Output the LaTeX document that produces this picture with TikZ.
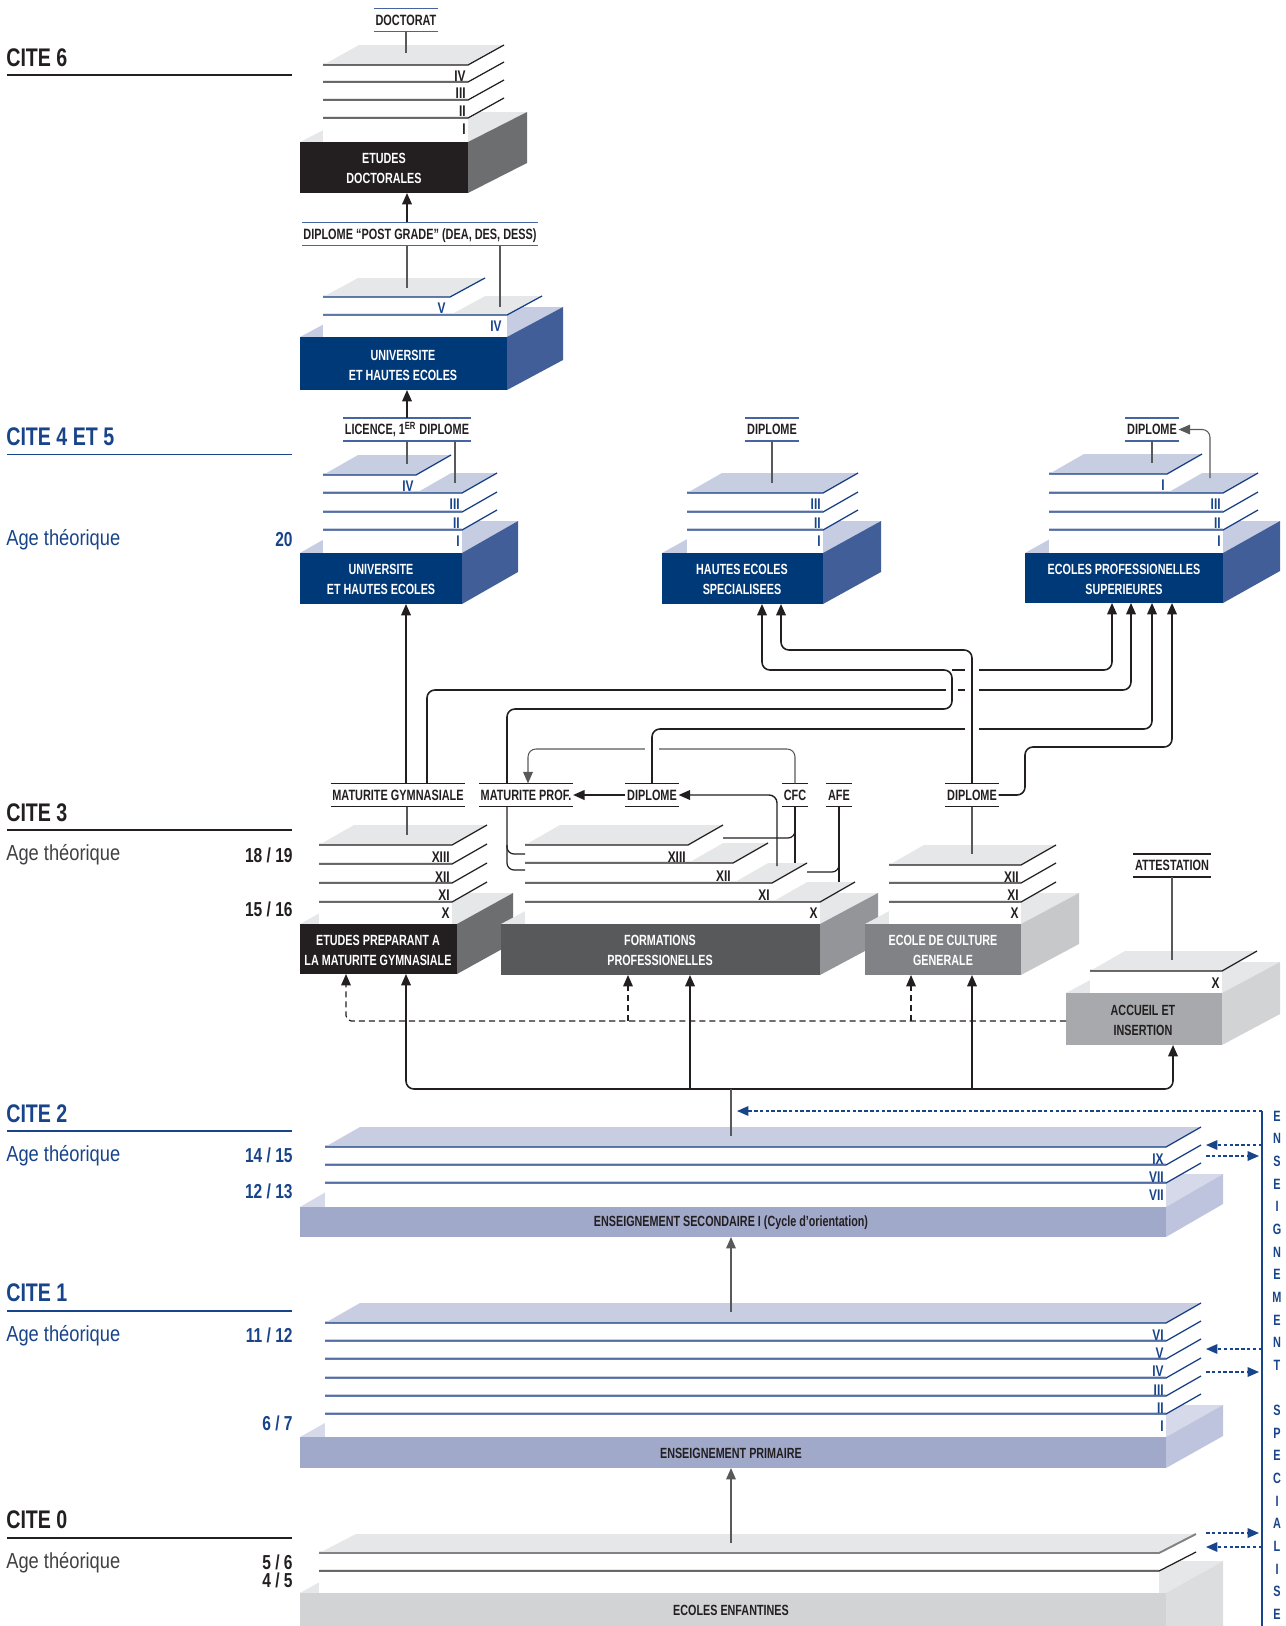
\documentclass[tikz,border=0pt]{standalone}
\usepackage{fontspec}
\setmainfont{Liberation Sans}
\newfontfamily\cnd{Liberation Sans}[FakeStretch=0.73]
\newfontfamily\hdf{Liberation Sans}[FakeStretch=0.77]
\newfontfamily\ltf{Liberation Sans}[FakeStretch=0.84]
\usetikzlibrary{arrows.meta}
\definecolor{ink}{RGB}{35,31,32}
\definecolor{cblue}{RGB}{24,68,138}
\definecolor{lblue}{RGB}{70,100,160}
\definecolor{bfront}{RGB}{0,57,120}
\definecolor{bside}{RGB}{66,94,152}
\definecolor{btop}{RGB}{198,204,226}
\definecolor{bsheet}{RGB}{200,206,226}
\definecolor{bline}{RGB}{20,60,130}
\definecolor{g1}{RGB}{230,231,232}
\definecolor{gside}{RGB}{109,110,112}
\definecolor{fpfront}{RGB}{88,89,91}
\definecolor{fpside}{RGB}{147,149,152}
\definecolor{ecgfront}{RGB}{128,130,133}
\definecolor{ecgside}{RGB}{199,200,202}
\definecolor{aifront}{RGB}{167,169,172}
\definecolor{aiside}{RGB}{209,211,212}
\definecolor{pfront}{RGB}{161,169,203}
\definecolor{pside}{RGB}{190,196,222}
\definecolor{ptop}{RGB}{213,217,233}
\definecolor{psheet}{RGB}{200,205,225}
\definecolor{eefront}{RGB}{209,211,212}
\definecolor{eeside}{RGB}{220,221,223}
\definecolor{lgray}{RGB}{88,89,91}
\definecolor{agegray}{RGB}{65,64,66}

% block: x1,y1,x2,y2,dx,dy,front,side,top
\newcommand\blk[9]{%
  \fill[#9] (#1,#2) -- (#3,#2) -- ({#3+#5},{#2+#6}) -- ({#1+#5},{#2+#6}) -- cycle;
  \fill[#8] (#3,#2) -- ({#3+#5},{#2+#6}) -- ({#3+#5},{#4+#6}) -- (#3,#4) -- cycle;
  \fill[#7] (#1,#2) rectangle (#3,#4);}
% sheet fill: x1,x2,y,ybase,yside,dx,dy,topcol
\newcommand\shf[8]{%
  \fill[white] (#1,#3) rectangle (#2,#4);
  \fill[white] (#2,#3) -- ({#2+#6},{#3+#7}) -- ({#2+#6},{#5+#7}) -- (#2,#5) -- cycle;
  \fill[#8] (#1,#3) -- (#2,#3) -- ({#2+#6},{#3+#7}) -- ({#1+#6},{#3+#7}) -- cycle;}
% sheet line: x1,x2,y,dx,dy,bandcol,linecol
\newcommand\shl[7]{%
  \fill[#6] (#1,{#3-2.5}) rectangle (#2,#3);
  \draw[#7,line width=0.7pt] (#1,#3) -- (#2,#3) -- ({#2+#4},{#3+#5});}
% roman numeral: name,xright,ytop,text,colour
\newcommand\rn[5]{\node[numf,#5,anchor=north east] (#1) at (#2,#3) {#4};}
% label with rules: name,pos,text,rulecolour
\newcommand\lab[4]{\node[lbl] (#1) at (#2) {#3};
  \draw[#4,line width=0.7pt] (#1.north west) -- (#1.north east) (#1.south west) -- (#1.south east);}

\tikzset{
 conn/.style={line width=0.9pt, ink, rounded corners=4.5pt},
 arr/.style={conn, -{Triangle[length=6.5pt,width=5.5pt]}},
 thinc/.style={line width=0.7pt, ink, rounded corners=4pt},
 thinl/.style={line width=0.6pt, lgray},
 garr/.style={line width=0.6pt, lgray, rounded corners=4.5pt, -{Triangle[length=6.5pt,width=5.5pt]}},
 dconn/.style={line width=0.7pt, ink, rounded corners=3pt, dash pattern=on 3.5pt off 2.2pt},
 darr/.style={dconn, -{Triangle[length=6.5pt,width=5.5pt]}},
 bdarr/.style={line width=0.7pt, cblue, dash pattern=on 2pt off 1.3pt, -{Triangle[length=6.5pt,width=5.5pt]}},
 lbl/.style={font=\cnd\bfseries\fontsize{8.5}{9}\selectfont, ink, inner xsep=0.8pt, inner ysep=0pt, minimum height=12.8pt, text height=6.1pt, text depth=0pt},
 btxt/.style={font=\cnd\bfseries\fontsize{8.4}{11.3}\selectfont, align=center, inner sep=0pt},
 numf/.style={font=\hdf\bfseries\fontsize{8.8}{9}\selectfont, inner sep=0pt},
 hd/.style={font=\hdf\bfseries\fontsize{14.5}{15}\selectfont, inner sep=0pt, anchor=base west},
 age/.style={font=\ltf\fontsize{12.4}{13}\selectfont, inner sep=0pt, anchor=base west},
 agen/.style={font=\hdf\bfseries\fontsize{11.5}{12}\selectfont, inner sep=0pt, anchor=base east},
 vlet/.style={font=\cnd\bfseries\fontsize{8.5}{9}\selectfont, cblue, inner sep=0pt},
}

\begin{document}
\begin{tikzpicture}[x=0.02cm,y=-0.02cm]
\useasboundingbox (0,0) rectangle (1285,1626);
\clip (0,0) rectangle (1285,1626);

% ---------------- left column
\node[hd,ink] (c6) at (6,66) {CITE 6};
\draw[ink,line width=0.9pt] (7,75) -- (292,75);
\node[hd,cblue] (c45) at (6,445) {CITE 4 ET 5};
\draw[cblue,line width=0.9pt] (7,454.5) -- (292,454.5);
\node[age,cblue] (a45) at (6,545) {Age théorique};
\node[agen,cblue] (n45) at (293,546) {20};
\node[hd,ink] (c3) at (6,821) {CITE 3};
\draw[ink,line width=0.9pt] (7,830) -- (292,830);
\node[age,agegray] (a3) at (6,860) {Age théorique};
\node[agen,ink] (n3a) at (293,862.5) {18 / 19};
\node[agen,ink] (n3b) at (293,916.5) {15 / 16};
\node[hd,cblue] (c2) at (6,1122) {CITE 2};
\draw[cblue,line width=0.9pt] (7,1131) -- (292,1131);
\node[age,cblue] (a2) at (6,1161) {Age théorique};
\node[agen,cblue] (n2a) at (293,1162.5) {14 / 15};
\node[agen,cblue] (n2b) at (293,1198.5) {12 / 13};
\node[hd,cblue] (c1) at (6,1301) {CITE 1};
\draw[cblue,line width=0.9pt] (7,1311) -- (292,1311);
\node[age,cblue] (a1) at (6,1341) {Age théorique};
\node[agen,cblue] (n1a) at (293,1342.5) {11 / 12};
\node[agen,cblue] (n1b) at (293,1430.5) {6 / 7};
\node[hd,ink] (c0) at (6,1528) {CITE 0};
\draw[ink,line width=0.9pt] (7,1538) -- (292,1538);
\node[age,agegray] (a0) at (6,1568) {Age théorique};
\node[agen,ink] (n0a) at (293,1569.5) {5 / 6};
\node[agen,ink] (n0b) at (293,1587.5) {4 / 5};

% ---------------- CITE 6 : etudes doctorales
\blk{300}{142}{468}{193}{59}{-30}{ink}{gside}{g1}
\shf{323}{468}{118}{142}{118}{36}{-20}{g1}
\shf{323}{468}{100}{118}{118}{36}{-20}{g1}
\shf{323}{468}{82}{100}{100}{36}{-20}{g1}
\shf{323}{468}{65}{82}{82}{36}{-20}{g1}
\shl{323}{468}{118}{36}{-20}{g1}{ink}
\shl{323}{468}{100}{36}{-20}{g1}{ink}
\shl{323}{468}{82}{36}{-20}{g1}{ink}
\shl{323}{468}{65}{36}{-20}{g1}{ink}
\rn{ed4}{466}{71}{IV}{ink}
\rn{ed3}{466}{88}{III}{ink}
\rn{ed2}{466}{106}{II}{ink}
\rn{ed1}{466}{124}{I}{ink}
\node[btxt,white] (edt) at (384,168) {ETUDES\\DOCTORALES};

% ---------------- CITE 6 : universite
\blk{300}{337}{507}{390}{56}{-30}{bfront}{bside}{btop}
\shf{323}{507}{315}{337}{315}{35}{-19}{g1}
\shf{323}{450}{297}{315}{315}{35}{-19}{g1}
\shl{323}{507}{315}{35}{-19}{g1}{bline}
\shl{323}{450}{297}{35}{-19}{g1}{bline}
\rn{u6v}{446}{303}{V}{cblue}
\rn{u6iv}{502}{321}{IV}{cblue}
\node[btxt,white] (u6t) at (403,365) {UNIVERSITE\\ET HAUTES ECOLES};

% ---------------- CITE 4/5 : universite
\blk{300}{553}{462}{604}{56}{-32}{bfront}{bside}{btop}
\shf{323}{462}{530}{553}{530}{35}{-20}{bsheet}
\shf{323}{462}{512}{530}{530}{35}{-20}{bsheet}
\shf{323}{462}{493}{512}{512}{35}{-20}{bsheet}
\shf{323}{416}{475}{493}{493}{35}{-20}{bsheet}
\shl{323}{462}{530}{35}{-20}{bsheet}{bline}
\shl{323}{462}{512}{35}{-20}{bsheet}{bline}
\shl{323}{462}{493}{35}{-20}{bsheet}{bline}
\shl{323}{416}{475}{35}{-20}{bsheet}{bline}
\rn{u4iv}{414}{481}{IV}{cblue}
\rn{u4iii}{460}{499}{III}{cblue}
\rn{u4ii}{460}{518}{II}{cblue}
\rn{u4i}{460}{536}{I}{cblue}
\node[btxt,white] (u4t) at (381,579) {UNIVERSITE\\ET HAUTES ECOLES};

% ---------------- CITE 4/5 : HES
\blk{662}{553}{823}{604}{58}{-32}{bfront}{bside}{btop}
\shf{687}{823}{530}{553}{530}{35}{-20}{bsheet}
\shf{687}{823}{512}{530}{530}{35}{-20}{bsheet}
\shf{687}{823}{493}{512}{512}{35}{-20}{bsheet}
\shl{687}{823}{530}{35}{-20}{bsheet}{bline}
\shl{687}{823}{512}{35}{-20}{bsheet}{bline}
\shl{687}{823}{493}{35}{-20}{bsheet}{bline}
\rn{hesiii}{821}{499}{III}{cblue}
\rn{hesii}{821}{518}{II}{cblue}
\rn{hesi}{821}{536}{I}{cblue}
\node[btxt,white] (hest) at (742,579) {HAUTES ECOLES\\SPECIALISEES};

% ---------------- CITE 4/5 : EPS
\blk{1025}{553}{1223}{603}{57}{-32}{bfront}{bside}{btop}
\shf{1049}{1223}{530}{553}{530}{35}{-20}{bsheet}
\shf{1049}{1223}{512}{530}{530}{35}{-20}{bsheet}
\shf{1049}{1223}{493}{512}{512}{35}{-20}{bsheet}
\shf{1049}{1167}{474}{493}{493}{35}{-20}{bsheet}
\shl{1049}{1223}{530}{35}{-20}{bsheet}{bline}
\shl{1049}{1223}{512}{35}{-20}{bsheet}{bline}
\shl{1049}{1223}{493}{35}{-20}{bsheet}{bline}
\shl{1049}{1167}{474}{35}{-20}{bsheet}{bline}
\rn{epsis}{1165}{480}{I}{cblue}
\rn{epsiii}{1221}{499}{III}{cblue}
\rn{epsii}{1221}{518}{II}{cblue}
\rn{epsi}{1221}{536}{I}{cblue}
\node[btxt,white] (epst) at (1124,579) {ECOLES PROFESSIONELLES\\SUPERIEURES};

% ---------------- CITE 3 blocks
\blk{300}{924}{457}{974}{56}{-31}{ink}{gside}{g1}
\shf{319}{452}{902}{924}{902}{35}{-20}{g1}
\shf{319}{452}{883}{902}{902}{35}{-20}{g1}
\shf{319}{452}{864}{883}{883}{35}{-20}{g1}
\shf{319}{452}{845}{864}{864}{35}{-20}{g1}
\shl{319}{452}{902}{35}{-20}{g1}{ink}
\shl{319}{452}{883}{35}{-20}{g1}{ink}
\shl{319}{452}{864}{35}{-20}{g1}{ink}
\shl{319}{452}{845}{35}{-20}{g1}{ink}
\rn{ep13}{450}{852}{XIII}{ink}
\rn{ep12}{450}{871}{XII}{ink}
\rn{ep11}{450}{889}{XI}{ink}
\rn{ep10}{450}{908}{X}{ink}
\node[btxt,white] (ept) at (378,950) {ETUDES PREPARANT A\\LA MATURITE GYMNASIALE};

\blk{501}{924}{820}{975}{58}{-31}{fpfront}{fpside}{g1}
\shf{525}{820}{902}{924}{902}{35}{-20}{g1}
\shf{525}{772}{883}{902}{902}{35}{-20}{g1}
\shf{525}{733}{863}{883}{883}{35}{-20}{g1}
\shf{525}{688}{845}{863}{863}{35}{-20}{g1}
\shl{525}{820}{902}{35}{-20}{g1}{ink}
\shl{525}{772}{883}{35}{-20}{g1}{ink}
\shl{525}{733}{863}{35}{-20}{g1}{ink}
\shl{525}{688}{845}{35}{-20}{g1}{ink}
\rn{fp13}{686}{852}{XIII}{ink}
\rn{fp12}{731}{870}{XII}{ink}
\rn{fp11}{770}{889}{XI}{ink}
\rn{fp10}{818}{908}{X}{ink}
\node[btxt,white] (fpt) at (660,950) {FORMATIONS\\PROFESSIONELLES};

\blk{865}{924}{1021}{975}{58}{-31}{ecgfront}{ecgside}{g1}
\shf{889}{1021}{902}{924}{902}{35}{-20}{g1}
\shf{889}{1021}{883}{902}{902}{35}{-20}{g1}
\shf{889}{1021}{865}{883}{883}{35}{-20}{g1}
\shl{889}{1021}{902}{35}{-20}{g1}{ink}
\shl{889}{1021}{883}{35}{-20}{g1}{ink}
\shl{889}{1021}{865}{35}{-20}{g1}{ink}
\rn{ecg12}{1019}{871}{XII}{ink}
\rn{ecg11}{1019}{889}{XI}{ink}
\rn{ecg10}{1019}{908}{X}{ink}
\node[btxt,white] (ecgt) at (943,950) {ECOLE DE CULTURE\\GENERALE};

\blk{1066}{993}{1222}{1045}{58}{-31}{aifront}{aiside}{g1}
\shf{1090}{1222}{971}{993}{971}{35}{-20}{g1}
\shl{1090}{1222}{971}{35}{-20}{g1}{ink}
\rn{ai10}{1220}{977}{X}{ink}
\node[btxt,ink] (ait) at (1143,1020) {ACCUEIL ET\\INSERTION};

% ---------------- CITE 2
\blk{300}{1207}{1166}{1237}{57}{-33}{pfront}{pside}{ptop}
\shf{325}{1166}{1183}{1207}{1183}{35}{-20}{psheet}
\shf{325}{1166}{1165}{1183}{1183}{35}{-20}{psheet}
\shf{325}{1166}{1147}{1165}{1165}{35}{-20}{psheet}
\shl{325}{1166}{1183}{35}{-20}{psheet}{bline}
\shl{325}{1166}{1165}{35}{-20}{psheet}{bline}
\shl{325}{1166}{1147}{35}{-20}{psheet}{bline}
\rn{s9}{1164}{1153}{IX}{cblue}
\rn{s8}{1164}{1171}{VII}{cblue}
\rn{s7}{1164}{1189}{VII}{cblue}
\node[btxt,ink] (s1txt) at (731,1223) {ENSEIGNEMENT SECONDAIRE I (Cycle d’orientation)};

% ---------------- CITE 1
\blk{300}{1437}{1166}{1468}{57}{-32}{pfront}{pside}{ptop}
\shf{325}{1166}{1414}{1437}{1414}{35}{-20}{psheet}
\shf{325}{1166}{1396}{1414}{1414}{35}{-20}{psheet}
\shf{325}{1166}{1378}{1396}{1396}{35}{-20}{psheet}
\shf{325}{1166}{1359}{1378}{1378}{35}{-20}{psheet}
\shf{325}{1166}{1341}{1359}{1359}{35}{-20}{psheet}
\shf{325}{1166}{1323}{1341}{1341}{35}{-20}{psheet}
\shl{325}{1166}{1414}{35}{-20}{psheet}{bline}
\shl{325}{1166}{1396}{35}{-20}{psheet}{bline}
\shl{325}{1166}{1378}{35}{-20}{psheet}{bline}
\shl{325}{1166}{1359}{35}{-20}{psheet}{bline}
\shl{325}{1166}{1341}{35}{-20}{psheet}{bline}
\shl{325}{1166}{1323}{35}{-20}{psheet}{bline}
\rn{p6}{1164}{1329}{VI}{cblue}
\rn{p5}{1164}{1347}{V}{cblue}
\rn{p4}{1164}{1365}{IV}{cblue}
\rn{p3}{1164}{1384}{III}{cblue}
\rn{p2}{1164}{1402}{II}{cblue}
\rn{p1}{1164}{1420}{I}{cblue}
\node[btxt,ink] (ptxt) at (731,1453) {ENSEIGNEMENT PRIMAIRE};

% ---------------- CITE 0
\blk{300}{1593}{1166}{1680}{57}{-32}{eefront}{eeside}{g1}
\shf{319}{1159}{1571}{1593}{1571}{37}{-19}{g1}
\shf{319}{1159}{1553}{1571}{1571}{37}{-19}{g1}
\shl{319}{1159}{1571}{37}{-19}{g1}{ink}
\fill[g1] (319,1550.5) rectangle (1159,1553);
\draw[ecgfront,line width=1.1pt] (319,1553) -- (1159,1553) -- (1196,1534);
\node[btxt,ink] (eetxt) at (731,1610) {ECOLES ENFANTINES};

% ---------------- labels
\lab{doc}{406,20}{DOCTORAT}{lblue}
\lab{pg}{420,234}{DIPLOME “POST GRADE” (DEA, DES, DESS)}{lblue}
\lab{lic}{407,429.5}{LICENCE, 1\textsuperscript{ER} DIPLOME}{lblue}
\lab{dhes}{772,429.5}{DIPLOME}{lblue}
\lab{deps}{1152,429.5}{DIPLOME}{lblue}
\lab{mg}{398,795}{MATURITE GYMNASIALE}{ink}
\lab{mp}{526,795}{MATURITE PROF.}{ink}
\lab{dipF}{652,795}{DIPLOME}{ink}
\lab{cfc}{795,795}{CFC}{ink}
\lab{afe}{839,795}{AFE}{ink}
\lab{dipE}{972,795}{DIPLOME}{ink}
\lab{att}{1172,865.5}{ATTESTATION}{ink}

% ---------------- coordinates
\coordinate (edB) at (407,193);
\coordinate (u6B) at (407,390);
\coordinate (u4B) at (406,604);
\coordinate (hesB1) at (762,604);
\coordinate (hesB2) at (781,604);
\coordinate (epsB1) at (1112,603);
\coordinate (epsB2) at (1131,603);
\coordinate (epsB3) at (1152,603);
\coordinate (epsB4) at (1172,603);
\coordinate (epB1) at (346,974);
\coordinate (epB2) at (406,974);
\coordinate (fpB1) at (628,975);
\coordinate (fpB2) at (690,975);
\coordinate (ecgB1) at (911,975);
\coordinate (ecgB2) at (972,975);
\coordinate (aiB) at (1173,1045);
\coordinate (aiW) at (1066,1021);
\coordinate (s1Top) at (731,1136);
\coordinate (s1Bot) at (731,1237);
\coordinate (pTop) at (731,1312);
\coordinate (pBot) at (731,1468);
\coordinate (eeTop) at (731,1543);
\coordinate (docS) at (406,53);
\coordinate (u6V) at (407,288);
\coordinate (u6IV) at (500,307);
\coordinate (u4IV) at (407,464);
\coordinate (u4III) at (455,483);
\coordinate (hesS) at (772,483);
\coordinate (epsS) at (1152,463);
\coordinate (epsI) at (1210,478);
\coordinate (mgS) at (407,835);
\coordinate (ecgS) at (972,854);
\coordinate (attS) at (1172,960);
\coordinate (fpXI) at (777,866);
\coordinate (cfcS) at (795,863);
\coordinate (afeS) at (839,882);
\coordinate (xA) at (507,0);
\coordinate (xC) at (427,0);
\coordinate (xE) at (528,0);
\coordinate (vTop) at (1262,1111);
\coordinate (secArr) at (737,1111);

% ---------------- thin lines from labels to sheets
\draw[thinl] (doc.south) -- (docS);
\draw[thinl] (pg.south -| u6V) -- (u6V);
\draw[thinl] (pg.south -| u6IV) -- (u6IV);
\draw[thinl] (lic.south -| u4IV) -- (u4IV);
\draw[thinl] (lic.south -| u4III) -- (u4III);
\draw[thinl] (dhes.south) -- (hesS);
\draw[thinl] (deps.south) -- (epsS);
\draw[thinl] (mg.south -| mgS) -- (mgS);
\draw[thinl] (dipE.south) -- (ecgS);
\draw[thinl] (att.south) -- (attS);

% ---------------- upper arrows
\draw[arr] (pg.north -| edB) -- (edB);
\draw[arr] (lic.north -| u6B) -- (u6B);
\draw[garr] (epsI) -- (epsI |- deps) -- (deps.east);

% ---------------- CITE 3 -> CITE 4/5 connectors
\draw[arr] (mg.north -| u4B) -- (u4B);
\draw[arr] (mp.north -| xA) -- (507,709) -- (952,709) -- (952,670) -- (762,670) -- (hesB1);
\draw[arr] (952,670) -- (1112,670) -- (epsB1);
\draw[arr] (mg.north -| xC) -- (427,690) -- (1131,690) -- (epsB2);
\draw[arr] (dipF.north) -- (652,729) -- (1152,729) -- (epsB3);
\draw[arr] (dipE.east) -- (1025,795) -- (1025,747) -- (1172,747) -- (epsB4);
\draw[garr] (cfc.north) -- (795,749) -- (528,749) -- (mp.north -| xE);
% crossing gaps
\draw[white,line width=7.5pt] (972,662) -- (972,738);
\draw[white,line width=7pt] (952,682) -- (952,698);
\draw[white,line width=8pt] (652,742) -- (652,756);
\draw[conn] (952,701) -- (952,679);
\draw[conn] (652,760) -- (652,738);
\draw[arr] (dipE.north) -- (972,650) -- (781,650) -- (hesB2);

% ---------------- CITE 3 internal lines
\draw[thinc] (mp.south -| xA) -- (507,870) -- (525,870);
\draw[thinc] (507,845) -- (507,854) -- (525,854);
\draw[arr,line width=0.8pt] (fpXI) -- (777,795) -- (dipF.east);
\draw[arr] (dipF.west) -- (mp.east);
\draw[thinc] (cfc.south) -- (cfcS);
\draw[thinc] (795,825) -- (795,838) -- (723,838);
\draw[thinc] (afe.south) -- (afeS);
\draw[thinc] (839,860) -- (839,872) -- (807,872);

% ---------------- CITE 2 -> CITE 3
\draw[conn,{Triangle[length=6.5pt,width=5.5pt]}-{Triangle[length=6.5pt,width=5.5pt]}] (epB2) -- (406,1089) -- (1173,1089) -- (aiB);
\draw[arr] (690,1089) -- (fpB2);
\draw[arr] (972,1089) -- (ecgB2);
\draw[thinl] (731,1089) -- (s1Top);
\draw[darr] (aiW) -- (346,1021) -- (epB1);
\draw[darr] (628,1021) -- (fpB1);
\draw[darr] (911,1021) -- (ecgB1);

% ---------------- lower arrows
\draw[garr] (pTop) -- (s1Bot);
\draw[garr] (eeTop) -- (pBot);

% ---------------- special education
\draw[cblue,line width=0.8pt] (vTop) -- (1262,1640);
\draw[bdarr] (vTop) -- (secArr);
\draw[bdarr] (1262,1145) -- (1206,1145);
\draw[bdarr] (1206,1156) -- (1259,1156);
\draw[bdarr] (1262,1349) -- (1206,1349);
\draw[bdarr] (1206,1372) -- (1259,1372);
\draw[bdarr] (1206,1533) -- (1259,1533);
\draw[bdarr] (1262,1547) -- (1206,1547);
\foreach \l [count=\i from 0] in {E,N,S,E,I,G,N,E,M,E,N,T,{},S,P,E,C,I,A,L,I,S,E}
  \node[vlet] (v\i) at (1277,{1116+22.65*\i}) {\l};
\end{tikzpicture}
\end{document}
